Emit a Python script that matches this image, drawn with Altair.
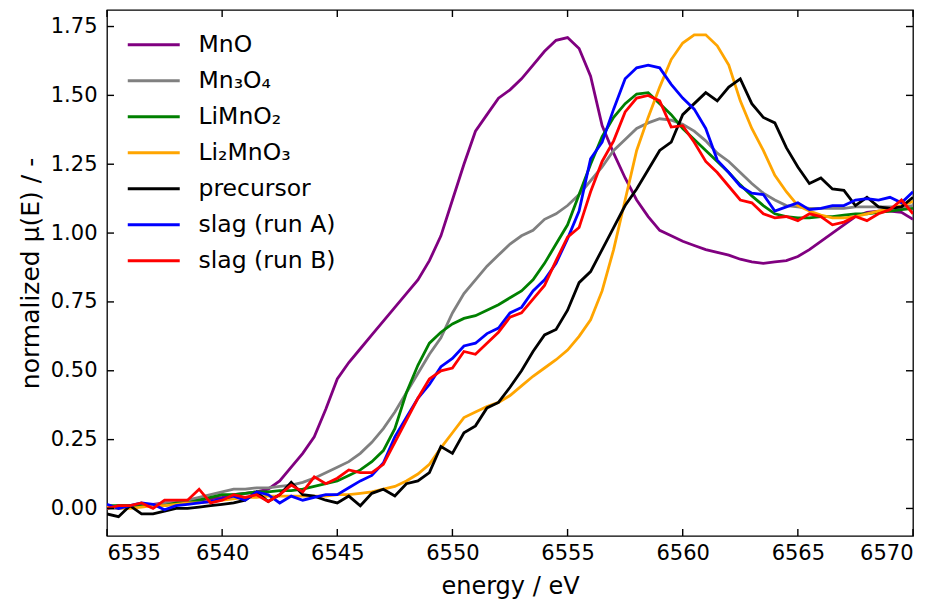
import altair as alt
import pandas as pd

energy = [6535.0, 6535.5, 6536.0, 6536.5, 6537.0, 6537.5, 6538.0, 6538.5, 6539.0, 6539.5,
          6540.0, 6540.5, 6541.0, 6541.5, 6542.0, 6542.5, 6543.0, 6543.5, 6544.0, 6544.5,
          6545.0, 6545.5, 6546.0, 6546.5, 6547.0, 6547.5, 6548.0, 6548.5, 6549.0, 6549.5,
          6550.0, 6550.5, 6551.0, 6551.5, 6552.0, 6552.5, 6553.0, 6553.5, 6554.0, 6554.5,
          6555.0, 6555.5, 6556.0, 6556.5, 6557.0, 6557.5, 6558.0, 6558.5, 6559.0, 6559.5,
          6560.0, 6560.5, 6561.0, 6561.5, 6562.0, 6562.5, 6563.0, 6563.5, 6564.0, 6564.5,
          6565.0, 6565.5, 6566.0, 6566.5, 6567.0, 6567.5, 6568.0, 6568.5, 6569.0, 6569.5,
          6570.0]

mno = [0.00, 0.01, 0.01, 0.01, 0.015, 0.02, 0.02, 0.025, 0.03, 0.035,
       0.04, 0.05, 0.055, 0.06, 0.07, 0.10, 0.15, 0.20, 0.26, 0.36,
       0.47, 0.53, 0.58, 0.63, 0.68, 0.73, 0.78, 0.83, 0.90, 0.99,
       1.12, 1.25, 1.37, 1.43, 1.49, 1.52, 1.56, 1.61, 1.66, 1.70,
       1.71, 1.67, 1.57, 1.39, 1.29, 1.20, 1.12, 1.06, 1.01, 0.99,
       0.97, 0.955, 0.94, 0.93, 0.92, 0.905, 0.895, 0.89, 0.895, 0.90,
       0.915, 0.94, 0.97, 1.00, 1.03, 1.06, 1.075, 1.08, 1.08, 1.075,
       1.05]

mn3o4 = [0.00, 0.00, 0.01, 0.01, 0.01, 0.02, 0.02, 0.03, 0.04, 0.05,
         0.06, 0.07, 0.07, 0.075, 0.075, 0.08, 0.085, 0.095, 0.11, 0.13,
         0.15, 0.17, 0.20, 0.24, 0.29, 0.35, 0.42, 0.49, 0.56, 0.62,
         0.71, 0.78, 0.83, 0.88, 0.92, 0.96, 0.99, 1.01, 1.05, 1.07,
         1.10, 1.14, 1.19, 1.24, 1.30, 1.34, 1.38, 1.40, 1.415, 1.41,
         1.395, 1.37, 1.335, 1.29, 1.26, 1.22, 1.18, 1.145, 1.12, 1.10,
         1.095, 1.09, 1.09, 1.09, 1.09, 1.095, 1.095, 1.095, 1.095, 1.095,
         1.10]

limno2 = [0.01, 0.01, 0.01, 0.01, 0.01, 0.01, 0.02, 0.02, 0.03, 0.04,
          0.05, 0.05, 0.055, 0.06, 0.06, 0.065, 0.065, 0.07, 0.08, 0.09,
          0.10, 0.12, 0.14, 0.17, 0.21, 0.29, 0.42, 0.52, 0.60, 0.64,
          0.67, 0.69, 0.70, 0.72, 0.74, 0.765, 0.79, 0.83, 0.89, 0.96,
          1.03, 1.14, 1.25, 1.35, 1.42, 1.47, 1.505, 1.51, 1.47, 1.43,
          1.38, 1.34, 1.30, 1.26, 1.22, 1.175, 1.135, 1.10, 1.07, 1.06,
          1.055, 1.055, 1.06, 1.06, 1.065, 1.07, 1.07, 1.075, 1.08, 1.085,
          1.09]

li2mno3 = [0.01, 0.00, 0.00, 0.005, 0.01, 0.01, 0.015, 0.02, 0.02, 0.025,
           0.03, 0.035, 0.04, 0.04, 0.045, 0.045, 0.045, 0.045, 0.045, 0.045,
           0.05, 0.05, 0.055, 0.06, 0.07, 0.08, 0.10, 0.125, 0.16, 0.22,
           0.275, 0.33, 0.35, 0.37, 0.385, 0.41, 0.445, 0.48, 0.51, 0.54,
           0.575, 0.625, 0.685, 0.79, 0.94, 1.12, 1.30, 1.42, 1.53, 1.63,
           1.69, 1.72, 1.72, 1.68, 1.61, 1.48, 1.38, 1.30, 1.21, 1.15,
           1.10, 1.08, 1.065, 1.055, 1.055, 1.06, 1.07, 1.08, 1.09, 1.10,
           1.115]

precursor = [-0.02, -0.03, 0.01, -0.02, -0.02, -0.01, 0.00, 0.00, 0.005, 0.01,
             0.015, 0.02, 0.03, 0.06, 0.025, 0.05, 0.095, 0.05, 0.045, 0.03,
             0.02, 0.045, 0.01, 0.055, 0.07, 0.045, 0.09, 0.10, 0.13, 0.225,
             0.20, 0.275, 0.30, 0.365, 0.385, 0.44, 0.50, 0.57, 0.63, 0.65,
             0.72, 0.82, 0.86, 0.94, 1.02, 1.10, 1.16, 1.23, 1.30, 1.33,
             1.43, 1.47, 1.51, 1.48, 1.53, 1.56, 1.47, 1.42, 1.40, 1.31,
             1.24, 1.18, 1.20, 1.16, 1.155, 1.10, 1.13, 1.095, 1.09, 1.095,
             1.13]

slag_a = [0.015, 0.00, 0.01, 0.02, 0.015, -0.005, 0.01, 0.015, 0.02, 0.025,
          0.035, 0.045, 0.03, 0.06, 0.05, 0.02, 0.045, 0.03, 0.04, 0.05,
          0.05, 0.075, 0.10, 0.12, 0.165, 0.26, 0.33, 0.40, 0.45, 0.515,
          0.545, 0.59, 0.60, 0.635, 0.655, 0.71, 0.73, 0.79, 0.83, 0.89,
          0.98, 1.08, 1.27, 1.33, 1.45, 1.56, 1.60, 1.61, 1.60, 1.54,
          1.49, 1.45, 1.38, 1.265, 1.22, 1.17, 1.145, 1.14, 1.08, 1.095,
          1.11, 1.085, 1.09, 1.10, 1.10, 1.12, 1.125, 1.12, 1.13, 1.11,
          1.15]

slag_b = [0.00, 0.01, 0.01, 0.02, 0.00, 0.03, 0.03, 0.03, 0.07, 0.02,
          0.03, 0.05, 0.04, 0.05, 0.025, 0.05, 0.085, 0.06, 0.115, 0.09,
          0.11, 0.14, 0.13, 0.13, 0.16, 0.24, 0.32, 0.40, 0.47, 0.50,
          0.51, 0.57, 0.56, 0.60, 0.64, 0.695, 0.71, 0.76, 0.81, 0.90,
          0.985, 1.02, 1.15, 1.26, 1.335, 1.44, 1.49, 1.50, 1.48, 1.385,
          1.39, 1.33, 1.26, 1.22, 1.17, 1.12, 1.11, 1.07, 1.055, 1.06,
          1.045, 1.07, 1.06, 1.03, 1.04, 1.06, 1.045, 1.07, 1.085, 1.12,
          1.07]

names = ["MnO", "Mn\u2083O\u2084", "LiMnO\u2082", "Li\u2082MnO\u2083",
         "precursor", "slag (run A)", "slag (run B)"]
colors = ["#800080", "#808080", "#008000", "#ffa500", "#000000", "#0000ff", "#ff0000"]
series = [mno, mn3o4, limno2, li2mno3, precursor, slag_a, slag_b]

x_ticks = [6535, 6540, 6545, 6550, 6555, 6560, 6565, 6570]
y_ticks = [0.0, 0.25, 0.5, 0.75, 1.0, 1.25, 1.5, 1.75]

rows = []
for name, vals in zip(names, series):
    for e, v in zip(energy, vals):
        rows.append({"energy": e, "mu": v, "series": name})
df = pd.DataFrame(rows)
xt = pd.DataFrame({"energy": x_ticks})
yt = pd.DataFrame({"mu": y_ticks})

FONT = "DejaVu Sans"
W, H = 806, 526
TL = 7

xscale = alt.Scale(domain=[6535, 6570], nice=False, zero=False)
yscale = alt.Scale(domain=[-0.1, 1.81], nice=False, zero=False)

lines = alt.Chart(df).mark_line(strokeWidth=2.8, clip=True).encode(
    x=alt.X("energy:Q", scale=xscale,
            axis=alt.Axis(title="energy / eV", values=x_ticks, format="d",
                          ticks=False, labelPadding=6, titlePadding=11,
                          orient="bottom")),
    y=alt.Y("mu:Q", scale=yscale,
            axis=alt.Axis(title="normalized \u03bc(E) / -", values=y_ticks, format=".2f",
                          ticks=False, labelPadding=10, titlePadding=7,
                          titleFontSize=25, orient="left")),
    color=alt.Color("series:N", sort=names,
                    scale=alt.Scale(domain=names, range=colors),
                    legend=alt.Legend(orient="none", legendX=35, legendY=23, title=None,
                                      symbolType="M-3,0H3", symbolStrokeWidth=3,
                                      symbolSize=300, symbolFillColor="transparent",
                                      labelFontSize=23.5, labelFont=FONT,
                                      labelOffset=33, rowPadding=11, padding=0,
                                      labelColor="black")),
)

tick_style = dict(color="black", strokeWidth=1.4)
XT = alt.X("energy:Q", scale=xscale, axis=None)
YT = alt.Y("mu:Q", scale=yscale, axis=None)

tick_bottom = alt.Chart(xt).mark_rule(**tick_style).encode(
    x=XT, y=alt.value(H - TL), y2=alt.value(H))
tick_top = alt.Chart(xt).mark_rule(**tick_style).encode(
    x=XT, y=alt.value(0), y2=alt.value(TL))
tick_left = alt.Chart(yt).mark_rule(**tick_style).encode(
    y=YT, x=alt.value(0), x2=alt.value(TL))
tick_right = alt.Chart(yt).mark_rule(**tick_style).encode(
    y=YT, x=alt.value(W - TL), x2=alt.value(W))

chart = alt.layer(lines, tick_bottom, tick_top, tick_left, tick_right).resolve_axis(
    x="independent", y="independent"
).properties(
    width=W, height=H,
    autosize=alt.AutoSizeParams(type="none"),
    padding={"left": 99, "top": 2, "right": 20, "bottom": 65},
).configure(font=FONT).configure_view(
    stroke="black", strokeWidth=1.3
).configure_axis(
    domain=False, grid=False,
    labelFont=FONT, labelFontSize=21, labelColor="black",
    titleFont=FONT, titleFontSize=24, titleFontWeight="normal", titleColor="black",
)

chart.save("out.html", embed_options={"renderer": "svg", "actions": False})
